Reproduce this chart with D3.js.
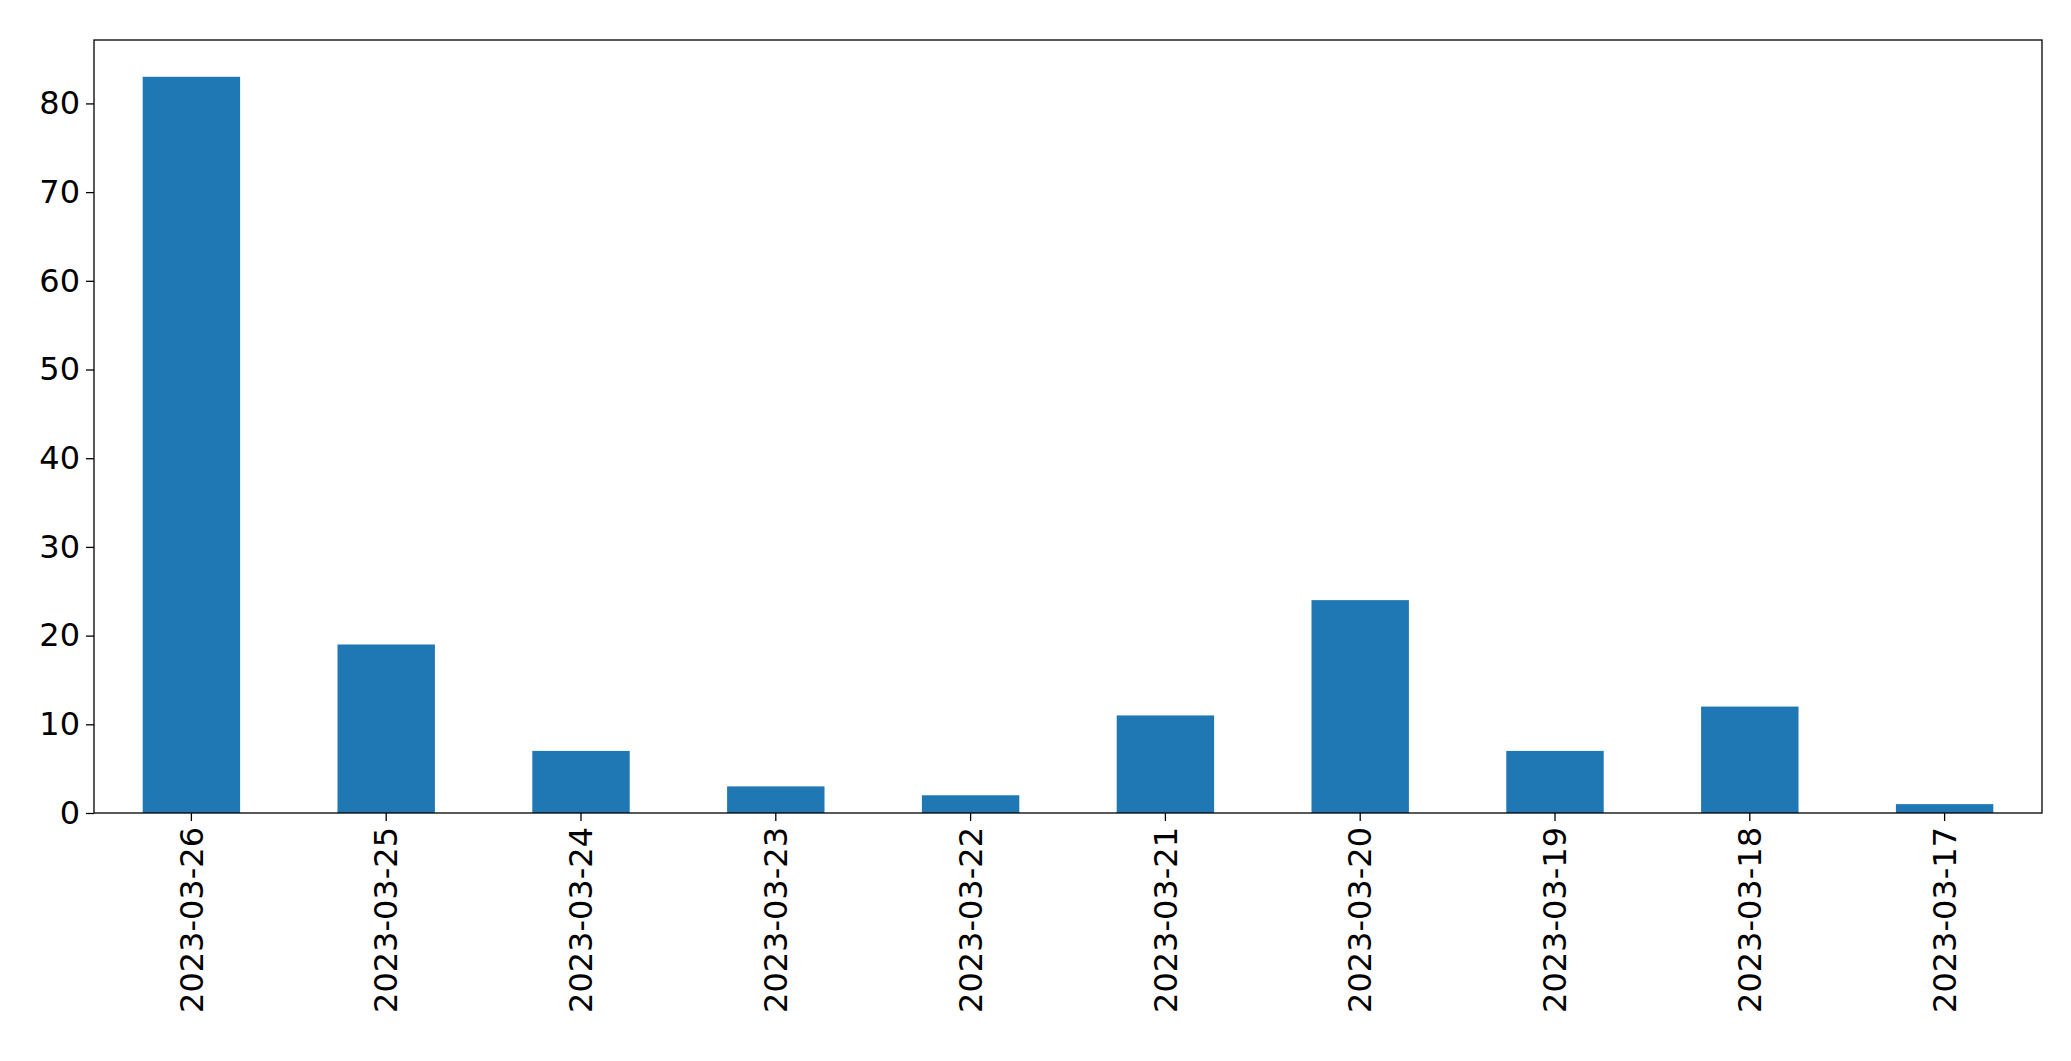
<!DOCTYPE html>
<meta charset="utf-8">
<style>
body { margin: 0; background: #fff; }
text { font-family: "DejaVu Sans", sans-serif; }
</style>
<body>
<div id="chart"></div>
<script src="https://cdn.jsdelivr.net/npm/d3@7"></script>
<script>
var dates = ["2023-03-26","2023-03-25","2023-03-24","2023-03-23","2023-03-22",
             "2023-03-21","2023-03-20","2023-03-19","2023-03-18","2023-03-17"];
var counts = [83, 19, 7, 3, 2, 11, 24, 7, 12, 1];
var yTicks = [0, 10, 20, 30, 40, 50, 60, 70, 80];

var W = 2071, H = 1061;
var margin = {top: 40, right: 29, bottom: 248, left: 94};
var width = W - margin.left - margin.right,
    height = H - margin.top - margin.bottom;

var svg = d3.select("#chart").append("svg")
    .attr("width", W).attr("height", H)
  .append("g")
    .attr("transform", "translate(" + margin.left + "," + margin.top + ")");

var x = d3.scaleBand().domain(dates).range([0, width]).paddingInner(0.5).paddingOuter(0.25);
var y = d3.scaleLinear().domain([0, 83 * 1.05]).range([height, 0]);

svg.selectAll("rect.bar")
  .data(dates)
  .enter().append("rect")
  .attr("class", "bar")
  .attr("x", function(d) { return x(d); })
  .attr("width", x.bandwidth())
  .attr("y", function(d, i) { return y(counts[i]); })
  .attr("height", function(d, i) { return height - y(counts[i]); })
  .attr("fill", "#1f77b4");

var yAxis = svg.append("g").call(d3.axisLeft(y).tickValues(yTicks).tickSize(8).tickPadding(6));
var xAxis = svg.append("g").attr("transform", "translate(0," + height + ")")
  .call(d3.axisBottom(x).tickSize(8).tickPadding(6));
xAxis.selectAll("text")
  .attr("transform", "rotate(-90)")
  .attr("text-anchor", "end")
  .attr("dy", "0.35em")
  .attr("x", -14).attr("y", 0);

[yAxis, xAxis].forEach(function(a) {
  a.select(".domain").remove();
  a.selectAll("text").attr("font-size", 32).attr("fill", "#000");
  a.selectAll("line").attr("stroke", "#000").attr("stroke-width", 1.3);
});

svg.append("rect").attr("width", width).attr("height", height)
  .attr("fill", "none").attr("stroke", "#000").attr("stroke-width", 1.3);
</script>
</body>
